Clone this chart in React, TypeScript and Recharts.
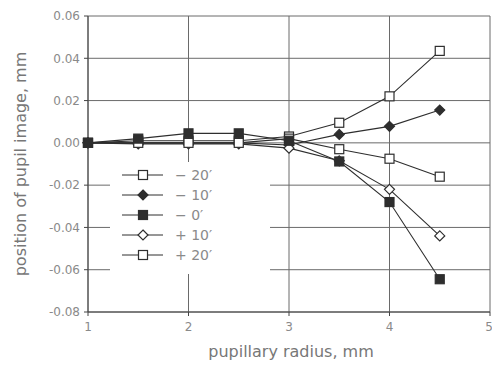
import React from "react";
import {
  LineChart,
  Line,
  XAxis,
  YAxis,
  CartesianGrid,
  Legend,
} from "recharts";

const radius = [1, 1.5, 2, 2.5, 3, 3.5, 4, 4.5];

const minus20 = [0, 0.001, 0.001, 0.001, 0.003, 0.0095, 0.022, 0.0435];
const minus10 = [0, 0, 0, 0, -0.001, 0.004, 0.0078, 0.0155];
const minus0 = [0, 0.002, 0.0045, 0.0045, 0.001, -0.0088, -0.028, -0.0645];
const plus10 = [0, -0.0005, -0.0005, -0.0005, -0.0025, -0.0085, -0.022, -0.044];
const plus20 = [0, 0, 0, 0, 0.002, -0.003, -0.0075, -0.016];

const xTicks = [1, 2, 3, 4, 5];
const yTicks = [-0.08, -0.06, -0.04, -0.02, 0, 0.02, 0.04, 0.06];

const series = [
  { key: "m20", name: "− 20′", values: minus20, shape: "square", filled: false },
  { key: "m10", name: "− 10′", values: minus10, shape: "diamond", filled: true },
  { key: "p10", name: "+ 10′", values: plus10, shape: "diamond", filled: false },
  { key: "p20", name: "+ 20′", values: plus20, shape: "square", filled: false },
  { key: "m0", name: "− 0′", values: minus0, shape: "square", filled: true },
];
const legendOrder = ["m20", "m10", "m0", "p10", "p20"];

const data = radius.map((r, i) => {
  const row: any = { r };
  series.forEach((s) => (row[s.key] = s.values[i]));
  return row;
});

const INK = "#2e2e2e";
const GREY = "#8a8a8a";
const FONT = "'DejaVu Sans', Lato, sans-serif";

function Marker({ cx, cy, shape, filled }: any) {
  const fill = filled ? INK : "#fff";
  if (shape === "diamond") {
    const d = 5;
    return (
      <polygon
        points={`${cx},${cy - d} ${cx + d},${cy} ${cx},${cy + d} ${cx - d},${cy}`}
        fill={fill}
        stroke={INK}
        strokeWidth={1.2}
      />
    );
  }
  const h = 4.5;
  return (
    <rect
      x={cx - h}
      y={cy - h}
      width={h * 2}
      height={h * 2}
      fill={fill}
      stroke={INK}
      strokeWidth={1.2}
    />
  );
}

function makeDot(s: any) {
  return (p: any) => (
    <Marker key={`${s.key}-${p.index}`} cx={p.cx} cy={p.cy} shape={s.shape} filled={s.filled} />
  );
}

function LegendBox() {
  return (
    <svg width={160} height={112} style={{ display: "block" }}>
      {legendOrder.map((k, i) => {
        const s: any = series.find((x) => x.key === k);
        const y = 13 + i * 20;
        return (
          <g key={k}>
            <line x1={12} x2={53} y1={y} y2={y} stroke={INK} strokeWidth={1} />
            <Marker cx={33} cy={y} shape={s.shape} filled={s.filled} />
            <text
              x={65}
              y={y + 5}
              fontSize={14}
              fontFamily={FONT}
              fill={GREY}
            >
              {s.name}
            </text>
          </g>
        );
      })}
    </svg>
  );
}

export default function App() {
  return (
    <div style={{ position: "absolute", left: 0, top: 0, background: "#fff" }}>
      <LineChart
        width={492}
        height={365}
        data={data}
        margin={{ top: 16, right: 2, bottom: 0, left: 0 }}
      >
        <CartesianGrid stroke="#6a6a6a" strokeWidth={1} />
        <XAxis
          dataKey="r"
          type="number"
          domain={[1, 5]}
          ticks={xTicks}
          height={53}
          stroke="#444"
          tickSize={4}
          tick={{ fill: GREY, fontSize: 12, fontFamily: FONT, dy: 4 }}
          label={{
            value: "pupillary radius, mm",
            position: "insideBottom",
            offset: 8,
            dx: 2,
            fill: "#777",
            fontSize: 16,
            fontFamily: FONT,
          }}
        />
        <YAxis
          type="number"
          domain={[-0.08, 0.06]}
          ticks={yTicks}
          width={88}
          stroke="#444"
          tickSize={4}
          tickFormatter={(v: number) => v.toFixed(2)}
          tick={{ fill: GREY, fontSize: 12, fontFamily: FONT, dx: -2 }}
          label={{
            value: "position of pupil image, mm",
            angle: -90,
            position: "insideLeft",
            offset: 20,
            fill: "#777",
            fontSize: 16,
            fontFamily: FONT,
            style: { textAnchor: "middle" },
          }}
        />
        <Legend
          layout="horizontal"
          verticalAlign="middle"
          align="center"
          content={<LegendBox />}
          wrapperStyle={{
            left: 110,
            top: 162,
            width: 160,
            height: 112,
            background: "#fff",
          }}
        />
        {series.map((s) => (
          <Line
            key={s.key}
            dataKey={s.key}
            name={s.name}
            stroke={INK}
            strokeWidth={1.1}
            dot={makeDot(s)}
            activeDot={false}
            isAnimationActive={false}
          />
        ))}
      </LineChart>
    </div>
  );
}
